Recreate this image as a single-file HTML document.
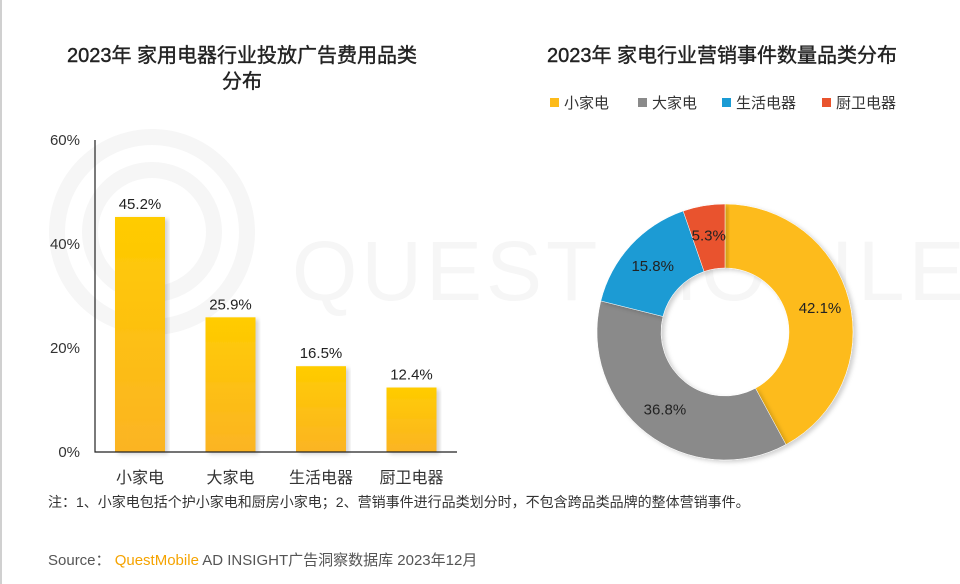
<!DOCTYPE html>
<html><head><meta charset="utf-8">
<style>
body{margin:0;background:#fff;font-family:"Liberation Sans","Noto Sans CJK SC",sans-serif;}
#root{position:relative;width:960px;height:584px;overflow:hidden;border-left:2px solid #d0d0d0;box-sizing:border-box;}
.t{position:absolute;color:#222;font-size:20px;font-weight:normal;text-align:center;line-height:26px;-webkit-text-stroke:0.4px #222;}
.note{position:absolute;left:46px;top:492px;font-size:14px;color:#333;}
.src{position:absolute;left:46px;top:549px;font-size:15px;color:#555;}
</style></head><body>
<div id="root">
<div class="t" style="left:20px;width:440px;top:43px;">2023年 家用电器行业投放广告费用品类<br>分布</div>
<div class="t" style="left:510px;width:420px;top:43px;">2023年 家电行业营销事件数量品类分布</div>
<svg width="960" height="584" style="position:absolute;left:0;top:0">
<defs>
<linearGradient id="gy" x1="0" y1="0" x2="0" y2="1"><stop offset="0" stop-color="#ffcc00"/><stop offset="1" stop-color="#fbb424"/></linearGradient>
<filter id="sh"><feDropShadow dx="3" dy="2" stdDeviation="2" flood-color="#000" flood-opacity="0.18"/></filter>
</defs>
<g fill="none" stroke="#f6f6f6" stroke-width="16">
<circle cx="150" cy="232" r="95"/><circle cx="150" cy="232" r="62"/>
<text x="290" y="300" font-size="84" fill="#f6f6f6" stroke="none" font-family="Liberation Sans" letter-spacing="4">QUEST MOBILE</text>
</g>
<g id="bars"></g>
<g id="donut"></g>
</svg>
<div class="note">注：1、小家电包括个护小家电和厨房小家电；2、营销事件进行品类划分时，不包含跨品类品牌的整体营销事件。</div>
<div class="src">Source：&nbsp;<span style="color:#f5a300">QuestMobile</span> AD INSIGHT广告洞察数据库 2023年12月</div>
</div>
<script>
const barCats=["小家电","大家电","生活电器","厨卫电器"];
const barVals=[45.2,25.9,16.5,12.4];
const yTicks=[0,20,40,60];
const pieCats=["小家电","大家电","生活电器","厨卫电器"];
const pieVals=[42.1,36.8,15.8,5.3];
const pieColors=["#fdbb1a","#8a8a8a","#1a9bd4","#e9532d"];
const NS="http://www.w3.org/2000/svg";
function mk(t,a,p){const e=document.createElementNS(NS,t);for(const k in a)e.setAttribute(k,a[k]);p.appendChild(e);return e;}
const bg=document.getElementById('bars');
const x0=93,x1=455,yT=140,yB=452;
const y=v=>yB-(v/60)*(yB-yT);
const bx=i=>138+i*90.5;
yTicks.forEach(t=>{const e=mk('text',{x:78,y:y(t)+5,'text-anchor':'end','font-size':15,fill:'#333'},bg);e.textContent=t+'%';

});
barVals.forEach((v,i)=>{
const r=mk('rect',{x:bx(i)-25,y:y(v),width:50,height:yB-y(v),fill:'url(#gy)',filter:'url(#sh)'},bg);


const l=mk('text',{x:bx(i),y:y(v)-8,'text-anchor':'middle','font-size':15,fill:'#222'},bg);l.textContent=v.toFixed(1)+'%';


const c=mk('text',{x:bx(i),y:483,'text-anchor':'middle','font-size':16,fill:'#333'},bg);c.textContent=barCats[i];


});
const ax=mk('path',{d:`M${x0} ${yT}V${yB}H${x1}`,stroke:'#222','stroke-width':1.2,fill:'none'},bg);


const dg=document.getElementById('donut');
const cx=723,cy=332,R=128,ri=64;
const tot=pieVals.reduce((a,b)=>a+b,0);
let a=0;
const pt=(ang,r)=>[cx+r*Math.sin(ang),cy-r*Math.cos(ang)];
pieVals.forEach((v,i)=>{
const a2=a+v/tot*2*Math.PI,lg=(a2-a)>Math.PI?1:0;
const [p1x,p1y]=pt(a,R),[p2x,p2y]=pt(a2,R),[p3x,p3y]=pt(a2,ri),[p4x,p4y]=pt(a,ri);
const s=mk('path',{d:`M${p1x} ${p1y}A${R} ${R} 0 ${lg} 1 ${p2x} ${p2y}L${p3x} ${p3y}A${ri} ${ri} 0 ${lg} 0 ${p4x} ${p4y}Z`,fill:pieColors[i],stroke:'#fff','stroke-width':0.5,filter:'url(#sh)'},dg);


const [lx,ly]=pt((a+a2)/2,(R+ri)/2+2);
const t=mk('text',{x:lx,y:ly+5,'text-anchor':'middle','font-size':15,fill:'#222'},dg);t.textContent=v.toFixed(1)+'%';


a=a2;});
const lxs=[548,636,720,820];
pieCats.forEach((c,i)=>{
const g=mk('g',{},dg);


mk('rect',{x:lxs[i],y:98,width:9,height:9,fill:pieColors[i]},g);
const t=mk('text',{x:lxs[i]+14,y:108,'font-size':15,fill:'#333'},g);t.textContent=c;});
</script>
</body></html>
